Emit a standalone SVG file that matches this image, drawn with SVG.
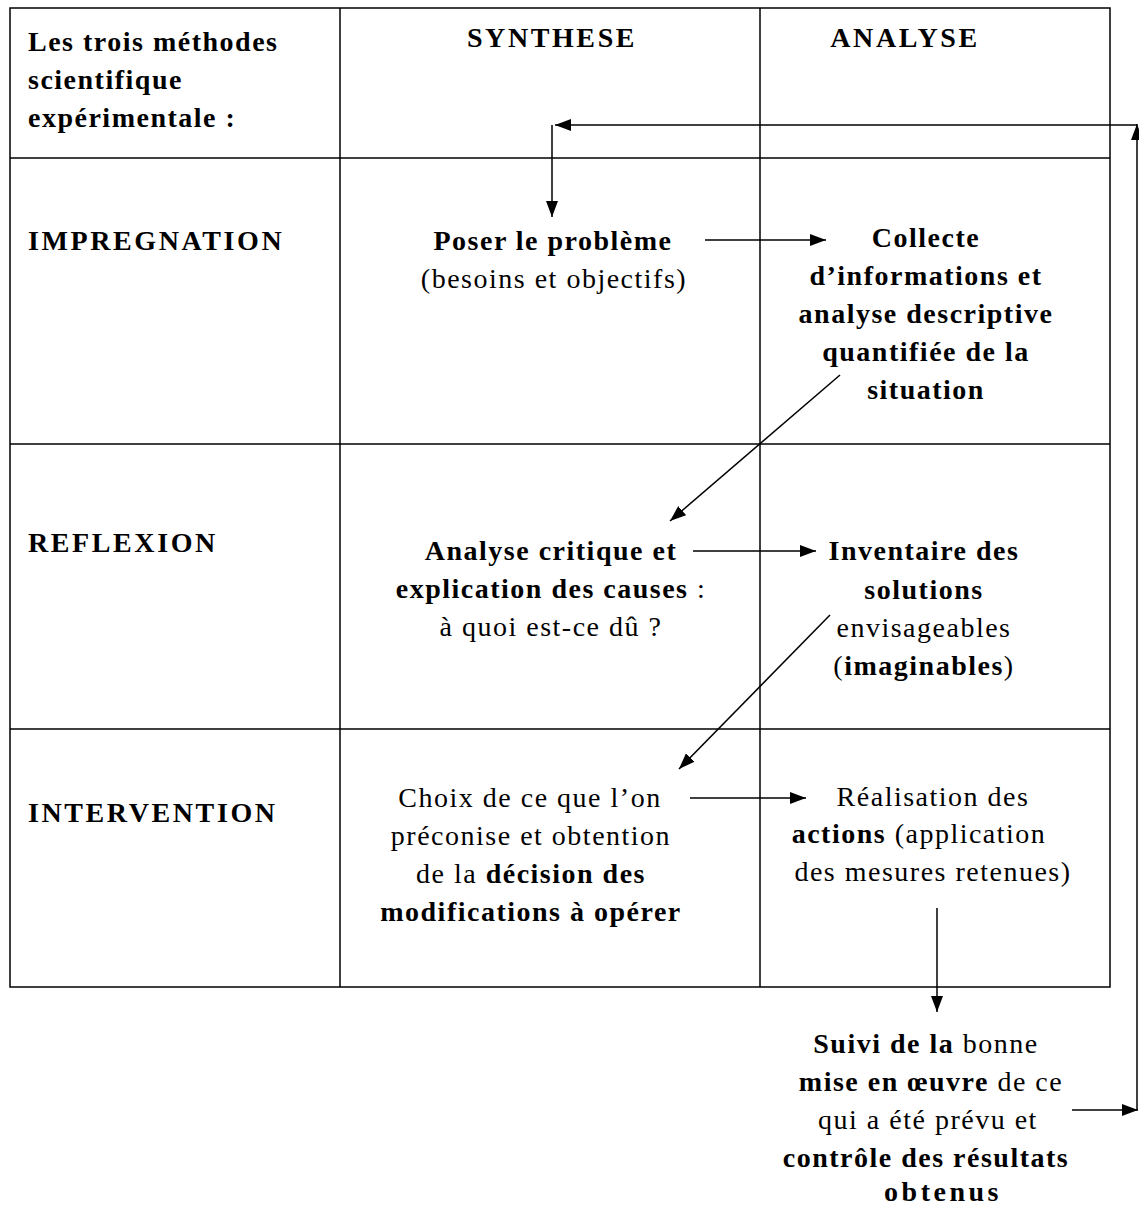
<svg xmlns="http://www.w3.org/2000/svg" width="1139" height="1207" viewBox="0 0 1139 1207">
<style>
text{font-family:"Liberation Serif","Times New Roman",serif;font-size:28px;letter-spacing:1.5px;fill:#000}
.b{font-weight:bold}
.c{text-anchor:middle}
.cap{letter-spacing:2.6px}
.grid{stroke:#000;stroke-width:1.5;fill:none}
.con{stroke:#000;stroke-width:1.5;fill:none}
</style>
<defs>
<marker id="ah" viewBox="0 0 16 12" refX="16" refY="6" markerWidth="16" markerHeight="12" markerUnits="userSpaceOnUse" orient="auto">
<path d="M0,0 L16,6 L0,12 Z" fill="#000"/>
</marker>
</defs>
<rect width="1139" height="1207" fill="#fff"/>
<g id="table" class="grid">
<rect x="10" y="8" width="1100" height="979"/>
<line x1="340" y1="8" x2="340" y2="987"/>
<line x1="760" y1="8" x2="760" y2="987"/>
<line x1="10" y1="158" x2="1110" y2="158"/>
<line x1="10" y1="444" x2="1110" y2="444"/>
<line x1="10" y1="729" x2="1110" y2="729"/>
</g>
<g id="headers">
<text class="b" x="28" y="51">Les trois méthodes</text>
<text class="b" x="28" y="89">scientifique</text>
<text class="b" x="28" y="127">expérimentale :</text>
<text class="b c cap" x="552" y="47">SYNTHESE</text>
<text class="b c cap" x="905" y="47">ANALYSE</text>
</g>
<g id="row-impregnation"><text class="b cap" x="28" y="250">IMPREGNATION</text></g>
<g id="row-reflexion"><text class="b cap" x="28" y="552">REFLEXION</text></g>
<g id="row-intervention"><text class="b cap" x="28" y="822">INTERVENTION</text></g>
<g id="n-poser">
<text class="b c" x="553" y="250">Poser le problème</text>
<text class="c" x="554" y="288">(besoins et objectifs)</text>
</g>
<g id="n-collecte">
<text class="b c" x="926" y="247">Collecte</text>
<text class="b c" x="926" y="285">d’informations et</text>
<text class="b c" x="926" y="323">analyse descriptive</text>
<text class="b c" x="926" y="361">quantifiée de la</text>
<text class="b c" x="926" y="399">situation</text>
</g>
<g id="n-analyse">
<text class="b c" x="551" y="560">Analyse critique et</text>
<text class="c" x="551" y="598"><tspan class="b">explication des causes</tspan> :</text>
<text class="c" x="551" y="636">à quoi est-ce dû ?</text>
</g>
<g id="n-inventaire">
<text class="b c" x="924" y="560">Inventaire des</text>
<text class="b c" x="924" y="599">solutions</text>
<text class="c" x="924" y="637">envisageables</text>
<text class="c" x="924" y="675">(<tspan class="b">imaginables</tspan>)</text>
</g>
<g id="n-choix">
<text class="c" x="530" y="807">Choix de ce que l’on</text>
<text class="c" x="531" y="845">préconise et obtention</text>
<text class="c" x="531" y="883">de la <tspan class="b">décision des</tspan></text>
<text class="b c" x="531" y="921">modifications à opérer</text>
</g>
<g id="n-realisation">
<text class="c" x="933" y="806">Réalisation des</text>
<text class="c" x="919" y="843"><tspan class="b">actions</tspan> (application</text>
<text class="c" x="933" y="881">des mesures retenues)</text>
</g>
<g id="n-suivi">
<text class="c" x="926" y="1053"><tspan class="b">Suivi de la</tspan> bonne</text>
<text class="c" x="931" y="1091"><tspan class="b">mise en œuvre</tspan> de ce</text>
<text class="c" x="928" y="1129">qui a été prévu et</text>
<text class="b c" x="926" y="1167">contrôle des résultats</text>
<text class="b c" x="943" y="1201" style="letter-spacing:3.5px">obtenus</text>
</g>
<g id="connectors" class="con">
<line x1="705" y1="240" x2="826" y2="240" marker-end="url(#ah)"/>
<line x1="840" y1="375" x2="670" y2="521" marker-end="url(#ah)"/>
<line x1="693" y1="551" x2="816" y2="551" marker-end="url(#ah)"/>
<line x1="830" y1="615" x2="679" y2="769" marker-end="url(#ah)"/>
<line x1="690" y1="798" x2="806" y2="798" marker-end="url(#ah)"/>
<line x1="937" y1="908" x2="937" y2="1012" marker-end="url(#ah)"/>
<line x1="1072" y1="1110" x2="1138" y2="1110" marker-end="url(#ah)"/>
<line x1="1137" y1="1110" x2="1137" y2="124" marker-end="url(#ah)"/>
<line x1="1137" y1="125" x2="555" y2="125" marker-end="url(#ah)"/>
<line x1="552" y1="125" x2="552" y2="217" marker-end="url(#ah)"/>
</g>
</svg>
